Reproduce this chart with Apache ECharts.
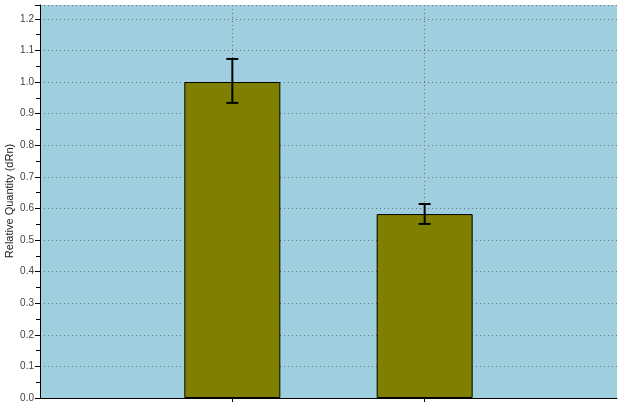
<!DOCTYPE html>
<html>
<head>
<meta charset="utf-8">
<script src="https://cdn.jsdelivr.net/npm/echarts@6/dist/echarts.min.js"></script>
<style>
  html, body { margin: 0; padding: 0; background: #fff; }
  #chart { width: 624px; height: 402px; }
</style>
</head>
<body>
<div id="chart"></div>
<script>
// Chart data
const categories = ['', 'Sample 1', 'Sample 2', ''];
const quantities = [null, 1.0, 0.582, null];
const errLow = [null, 0.934, 0.551, null];
const errHigh = [null, 1.073, 0.614, null];
const yAxisTitle = 'Relative Quantity (dRn)';

const chart = echarts.init(document.getElementById('chart'));

const errorData = categories
  .map((c, i) => [i, errLow[i], errHigh[i]])
  .filter(d => d[1] != null);

const gridLine = { color: '#66737c', type: [1, 3], width: 1 };

chart.setOption({
  animation: false,
  grid: {
    left: 40, right: 7, top: 5, bottom: 4,
    outerBoundsMode: 'none',
    containLabel: false,
    show: true,
    backgroundColor: '#9fcfdf',
    borderWidth: 0
  },
  // axis title placed by hand, the built-in name gets pushed off the left edge
  graphic: [{
    type: 'text',
    x: 10,
    y: 201,
    rotation: Math.PI / 2,
    style: {
      text: yAxisTitle,
      fontFamily: 'Liberation Sans',
      fontSize: 11,
      fill: '#222',
      align: 'center',
      verticalAlign: 'middle'
    }
  }],
  xAxis: {
    type: 'category',
    data: categories,
    boundaryGap: false,
    axisLine: { lineStyle: { color: '#000', width: 1 } },
    axisTick: {
      show: true, length: 5, lineStyle: { color: '#000' },
      interval: (i) => i > 0 && i < categories.length - 1
    },
    axisLabel: { show: false },
    splitLine: {
      show: true, lineStyle: gridLine,
      interval: (i) => i > 0 && i < categories.length - 1
    }
  },
  yAxis: {
    type: 'value',
    min: 0,
    max: 1.2437,
    interval: 0.1,
    axisLine: { show: true, lineStyle: { color: '#000', width: 1 } },
    axisTick: { show: true, length: 5, lineStyle: { color: '#000' } },
    minorTick: { show: true, splitNumber: 2, length: 4, lineStyle: { color: '#000' } },
    axisLabel: {
      fontFamily: 'Liberation Sans',
      fontSize: 10,
      color: '#444',
      margin: 6,
      showMaxLabel: false,
      formatter: v => (Math.abs(v * 10 - Math.round(v * 10)) < 1e-6 ? v.toFixed(1) : '')
    },
    splitLine: { show: true, lineStyle: gridLine }
  },
  series: [
    {
      type: 'bar',
      data: quantities,
      barWidth: 96,
      itemStyle: { color: '#808000', borderColor: '#000', borderWidth: 1 },
      z: 3
    },
    {
      type: 'custom',
      data: errorData,
      z: 5,
      renderItem: (params, api) => {
        const x = api.value(0);
        const lo = api.coord([x, api.value(1)]);
        const hi = api.coord([x, api.value(2)]);
        const half = 6;
        const style = { stroke: '#000', lineWidth: 2 };
        return {
          type: 'group',
          children: [
            { type: 'line', shape: { x1: lo[0], y1: lo[1], x2: hi[0], y2: hi[1] }, style },
            { type: 'line', shape: { x1: hi[0] - half, y1: hi[1], x2: hi[0] + half, y2: hi[1] }, style },
            { type: 'line', shape: { x1: lo[0] - half, y1: lo[1], x2: lo[0] + half, y2: lo[1] }, style }
          ]
        };
      }
    }
  ]
});
</script>
</body>
</html>
